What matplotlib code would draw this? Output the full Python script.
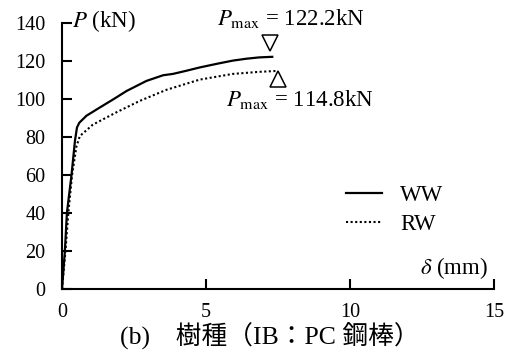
import matplotlib
matplotlib.use('Agg')
from matplotlib import pyplot as plt

# Load-displacement curves (delta in mm, P in kN)
ww_disp = [0, 0.1, 0.17, 0.33, 0.45, 0.52, 0.6, 0.85, 1.31, 1.8, 2.24, 2.93, 3.51, 3.85, 4.3, 4.78, 5.4, 5.93, 6.4, 6.85, 7.3]
ww_load = [0, 20, 40, 60, 78, 85, 87.5, 91.2, 95.5, 100, 104.2, 109.5, 112.5, 113.2, 114.8, 116.6, 118.6, 120.2, 121.2, 121.9, 122.2]
rw_disp = [0, 0.12, 0.22, 0.35, 0.5, 0.62, 1.07, 1.89, 2.7, 3.62, 4.78, 5.93, 6.85, 7.5]
rw_load = [0, 20, 40, 60, 75, 80.5, 86.5, 93.0, 99.0, 104.8, 110.2, 113.2, 114.3, 114.8]

p_max_ww = 122.2
p_max_rw = 114.8

x_ticks = [0, 5, 10, 15]
y_ticks = [0, 20, 40, 60, 80, 100, 120, 140]

FS = 16.5


def main():
    plt.rcParams['font.family'] = ['Liberation Serif', 'Noto Sans CJK JP']
    plt.rcParams['mathtext.fontset'] = 'stix'

    fig = plt.figure(figsize=(5.12, 3.58), dpi=100)
    ax = fig.add_axes([62 / 512, 1 - 289 / 358, 432 / 512, 266 / 358])

    ax.plot(ww_disp, ww_load, color='black', lw=1.6, label='WW')
    ax.plot(rw_disp, rw_load, color='black', lw=1.5, ls=(0, (1, 1.2)), label='RW')

    # peak markers
    ax.plot(7.22, p_max_ww + 7.5, marker='v', ms=12, mfc='white', mec='black', mew=1.1)
    ax.plot(7.5, p_max_rw - 4.2, marker='^', ms=12, mfc='white', mec='black', mew=1.1)
    ax.text(7.95, 142.5, r'$P_{\mathrm{max}}$ = %.1fkN' % p_max_ww, fontsize=FS,
            ha='center', va='center')
    ax.text(8.25, 99.5, r'$P_{\mathrm{max}}$ = %.1fkN' % p_max_rw, fontsize=FS,
            ha='center', va='center')

    ax.set_xlim(0, 15)
    ax.set_ylim(0, 140)
    ax.set_xticks(x_ticks)
    ax.set_yticks(y_ticks)
    ax.tick_params(direction='in', length=7, width=1.5, labelsize=14.5)
    ax.tick_params(axis='y', pad=12)
    ax.tick_params(axis='x', pad=10)
    for side in ['top', 'right']:
        ax.spines[side].set_visible(False)
    for side in ['left', 'bottom']:
        ax.spines[side].set_linewidth(1.5)

    ax.text(0.35, 141, r'$P$ (kN)', fontsize=FS, ha='left', va='center')
    ax.text(14.8, 11, r'$\delta$ (mm)', fontsize=FS, ha='right', va='center')

    ax.legend(loc='upper right', bbox_to_anchor=(0.93, 0.47), frameon=False,
              fontsize=FS, handlelength=1.55, handletextpad=0.8, labelspacing=0.35)

    fig.text(0.527, 1 - 336 / 358, '(b)\u3000樹種（IB：PC 鋼棒）', fontsize=18.5,
             ha='center', va='center')

    fig.savefig('out.png', dpi=100)
    plt.close()


if __name__ == '__main__':
    main()
